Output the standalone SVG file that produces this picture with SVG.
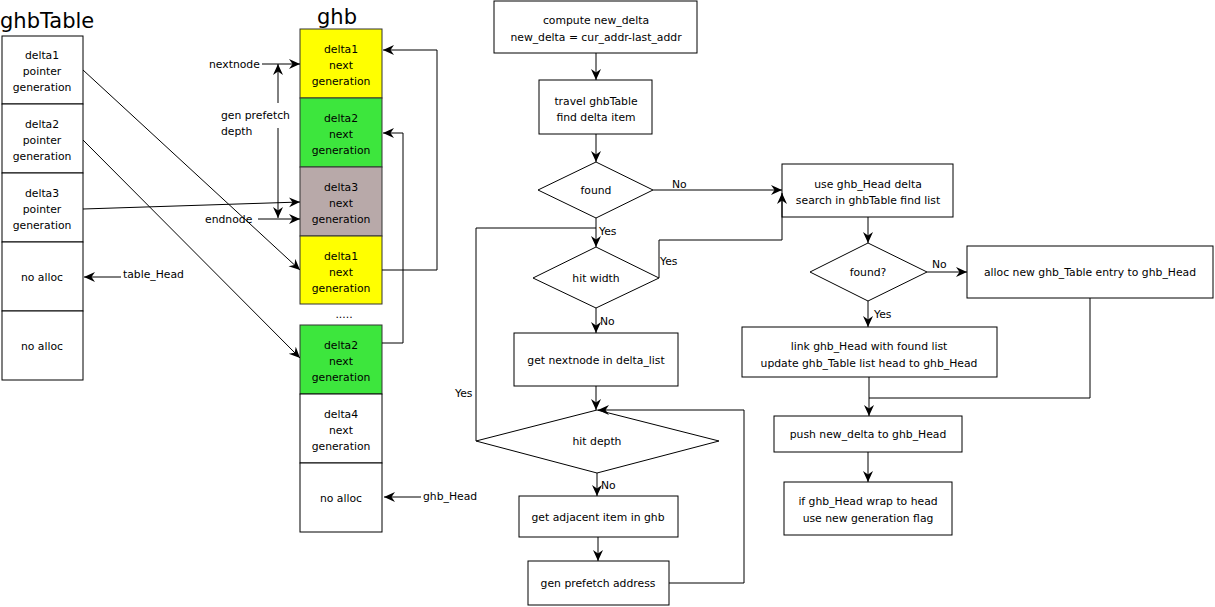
<svg xmlns="http://www.w3.org/2000/svg" width="1215" height="607" viewBox="0 0 1215 607">
<style>
text{font-family:"DejaVu Sans",Verdana,sans-serif;font-size:10.8px;fill:#000}
.c{text-anchor:middle}
.title{font-size:21px}
.box{fill:#fff;stroke:#000;stroke-width:1}
.yel{fill:#ffff00;stroke:#333;stroke-width:1}
.grn{fill:#3de63d;stroke:#333;stroke-width:1}
.gry{fill:#b8a9a9;stroke:#333;stroke-width:1}
.ln{fill:none;stroke:#000;stroke-width:1}
.ar{fill:none;stroke:#000;stroke-width:1;marker-end:url(#arr)}
</style>
<defs>
<marker id="arr" markerUnits="userSpaceOnUse" markerWidth="13" markerHeight="12" refX="11" refY="5" orient="auto">
<path d="M0,0 L11,5 L0,10 L3.5,5 z" fill="#000"/>
</marker>
</defs>
<rect width="1215" height="607" fill="#fff"/>

<text x="0" y="28" class="title">ghbTable</text>
<text x="337" y="24" class="title c">ghb</text>

<g id="tbl1"><rect x="2" y="36" width="81" height="68" class="box"/><text x="42" y="59" class="c">delta1</text><text x="42" y="75" class="c">pointer</text><text x="42" y="91" class="c">generation</text></g>
<g id="tbl2"><rect x="2" y="104" width="81" height="69" class="box"/><text x="42" y="128" class="c">delta2</text><text x="42" y="144" class="c">pointer</text><text x="42" y="160" class="c">generation</text></g>
<g id="tbl3"><rect x="2" y="173" width="81" height="69" class="box"/><text x="42" y="197" class="c">delta3</text><text x="42" y="213" class="c">pointer</text><text x="42" y="229" class="c">generation</text></g>
<g id="tbl4"><rect x="2" y="242" width="81" height="69" class="box"/><text x="42" y="281" class="c">no alloc</text></g>
<g id="tbl5"><rect x="2" y="311" width="81" height="69" class="box"/><text x="42" y="350" class="c">no alloc</text></g>

<g id="ghb1"><rect x="300" y="29" width="82" height="69" class="yel"/><text x="341" y="53" class="c">delta1</text><text x="341" y="69" class="c">next</text><text x="341" y="85" class="c">generation</text></g>
<g id="ghb2"><rect x="300" y="98" width="82" height="69" class="grn"/><text x="341" y="122" class="c">delta2</text><text x="341" y="138" class="c">next</text><text x="341" y="154" class="c">generation</text></g>
<g id="ghb3"><rect x="300" y="167" width="82" height="69" class="gry"/><text x="341" y="191" class="c">delta3</text><text x="341" y="207" class="c">next</text><text x="341" y="223" class="c">generation</text></g>
<g id="ghb4"><rect x="300" y="236" width="82" height="68" class="yel"/><text x="341" y="260" class="c">delta1</text><text x="341" y="276" class="c">next</text><text x="341" y="292" class="c">generation</text></g>
<text x="344" y="318" class="c">.....</text>
<g id="ghb5"><rect x="300" y="325" width="82" height="69" class="grn"/><text x="341" y="349" class="c">delta2</text><text x="341" y="365" class="c">next</text><text x="341" y="381" class="c">generation</text></g>
<g id="ghb6"><rect x="300" y="394" width="82" height="69" class="box"/><text x="341" y="418" class="c">delta4</text><text x="341" y="434" class="c">next</text><text x="341" y="450" class="c">generation</text></g>
<g id="ghb7"><rect x="300" y="463" width="82" height="69" class="box"/><text x="341" y="502" class="c">no alloc</text></g>

<g id="labels">
<text x="123" y="278">table_Head</text>
<text x="209" y="68">nextnode</text>
<text x="221" y="119">gen prefetch</text>
<text x="221" y="135">depth</text>
<text x="205" y="223">endnode</text>
<text x="423" y="500">ghb_Head</text>
</g>

<g id="fA"><rect x="494" y="1" width="203" height="52" class="box"/><text x="596" y="24" class="c">compute new_delta</text><text x="596" y="41" class="c">new_delta = cur_addr-last_addr</text></g>
<g id="fB"><rect x="539" y="80" width="113" height="54" class="box"/><text x="596" y="105" class="c">travel ghbTable</text><text x="596" y="121" class="c">find delta item</text></g>
<g id="fFound"><polygon points="596,162 653,190 596,218 538,190" class="box"/><text x="596" y="194" class="c">found</text></g>
<g id="fHitW"><polygon points="596,247 659,278 596,308 533,278" class="box"/><text x="596" y="282" class="c">hit width</text></g>
<g id="fC"><rect x="514" y="333" width="164" height="53" class="box"/><text x="596" y="364" class="c">get nextnode in delta_list</text></g>
<g id="fHitD"><polygon points="597,410 719,441 597,473 476,441" class="box"/><text x="597" y="445" class="c">hit depth</text></g>
<g id="fD"><rect x="519" y="496" width="159" height="41" class="box"/><text x="598" y="521" class="c">get adjacent item in ghb</text></g>
<g id="fE"><rect x="528" y="561" width="141" height="44" class="box"/><text x="598" y="587" class="c">gen prefetch address</text></g>
<g id="fF"><rect x="782" y="164" width="171" height="53" class="box"/><text x="868" y="188" class="c">use ghb_Head delta</text><text x="868" y="204" class="c">search in ghbTable find list</text></g>
<g id="fFound2"><polygon points="868,243 927,272 868,301 810,272" class="box"/><text x="868" y="276" class="c">found?</text></g>
<g id="fG"><rect x="967" y="246" width="246" height="52" class="box"/><text x="1090" y="276" class="c">alloc new ghb_Table entry to ghb_Head</text></g>
<g id="fH"><rect x="742" y="327" width="255" height="50" class="box"/><text x="869" y="350" class="c">link ghb_Head with found list</text><text x="869" y="367" class="c">update ghb_Table list head to ghb_Head</text></g>
<g id="fI"><rect x="774" y="416" width="188" height="36" class="box"/><text x="868" y="438" class="c">push new_delta to ghb_Head</text></g>
<g id="fJ"><rect x="784" y="482" width="168" height="53" class="box"/><text x="868" y="505" class="c">if ghb_Head wrap to head</text><text x="868" y="522" class="c">use new generation flag</text></g>

<g id="connectors">
<line x1="83" y1="70" x2="300" y2="270" class="ar"/>
<line x1="83" y1="140" x2="300" y2="358" class="ar"/>
<line x1="83" y1="209" x2="300" y2="202" class="ar"/>
<line x1="121" y1="277" x2="84" y2="277" class="ar"/>
<line x1="262" y1="64" x2="300" y2="64" class="ar"/>
<line x1="258" y1="219" x2="300" y2="219" class="ar"/>
<line x1="278" y1="103" x2="278" y2="64" class="ar"/>
<line x1="278" y1="128" x2="278" y2="218" class="ar"/>
<polyline points="382,270 437,270 437,50 383,50" class="ar"/>
<polyline points="382,343 403,343 403,133 383,133" class="ar"/>
<line x1="421" y1="497" x2="384" y2="497" class="ar"/>

<line x1="596" y1="53" x2="596" y2="80" class="ar"/>
<line x1="596" y1="134" x2="596" y2="162" class="ar"/>
<line x1="596" y1="218" x2="596" y2="247" class="ar"/>
<line x1="653" y1="190" x2="782" y2="190" class="ar"/>
<polyline points="659,278 659,240 782,240 782,193" class="ar"/>
<line x1="596" y1="308" x2="596" y2="333" class="ar"/>
<line x1="596" y1="386" x2="596" y2="410" class="ar"/>
<polyline points="476,441 476,228 596,228" class="ln"/>
<line x1="597" y1="473" x2="597" y2="496" class="ar"/>
<line x1="598" y1="537" x2="598" y2="561" class="ar"/>
<polyline points="669,583 744,583 744,410 598,410" class="ar"/>
<line x1="868" y1="217" x2="868" y2="243" class="ar"/>
<line x1="927" y1="272" x2="967" y2="272" class="ar"/>
<line x1="868" y1="301" x2="868" y2="327" class="ar"/>
<line x1="869" y1="377" x2="869" y2="416" class="ar"/>
<polyline points="1090,298 1090,398 869,398" class="ln"/>
<line x1="868" y1="452" x2="868" y2="482" class="ar"/>
</g>

<g id="edgeLabels">
<text x="672" y="188">No</text>
<text x="599" y="235">Yes</text>
<text x="660" y="265">Yes</text>
<text x="600" y="325">No</text>
<text x="455" y="397">Yes</text>
<text x="601" y="489">No</text>
<text x="932" y="268">No</text>
<text x="874" y="318">Yes</text>
</g>
</svg>
